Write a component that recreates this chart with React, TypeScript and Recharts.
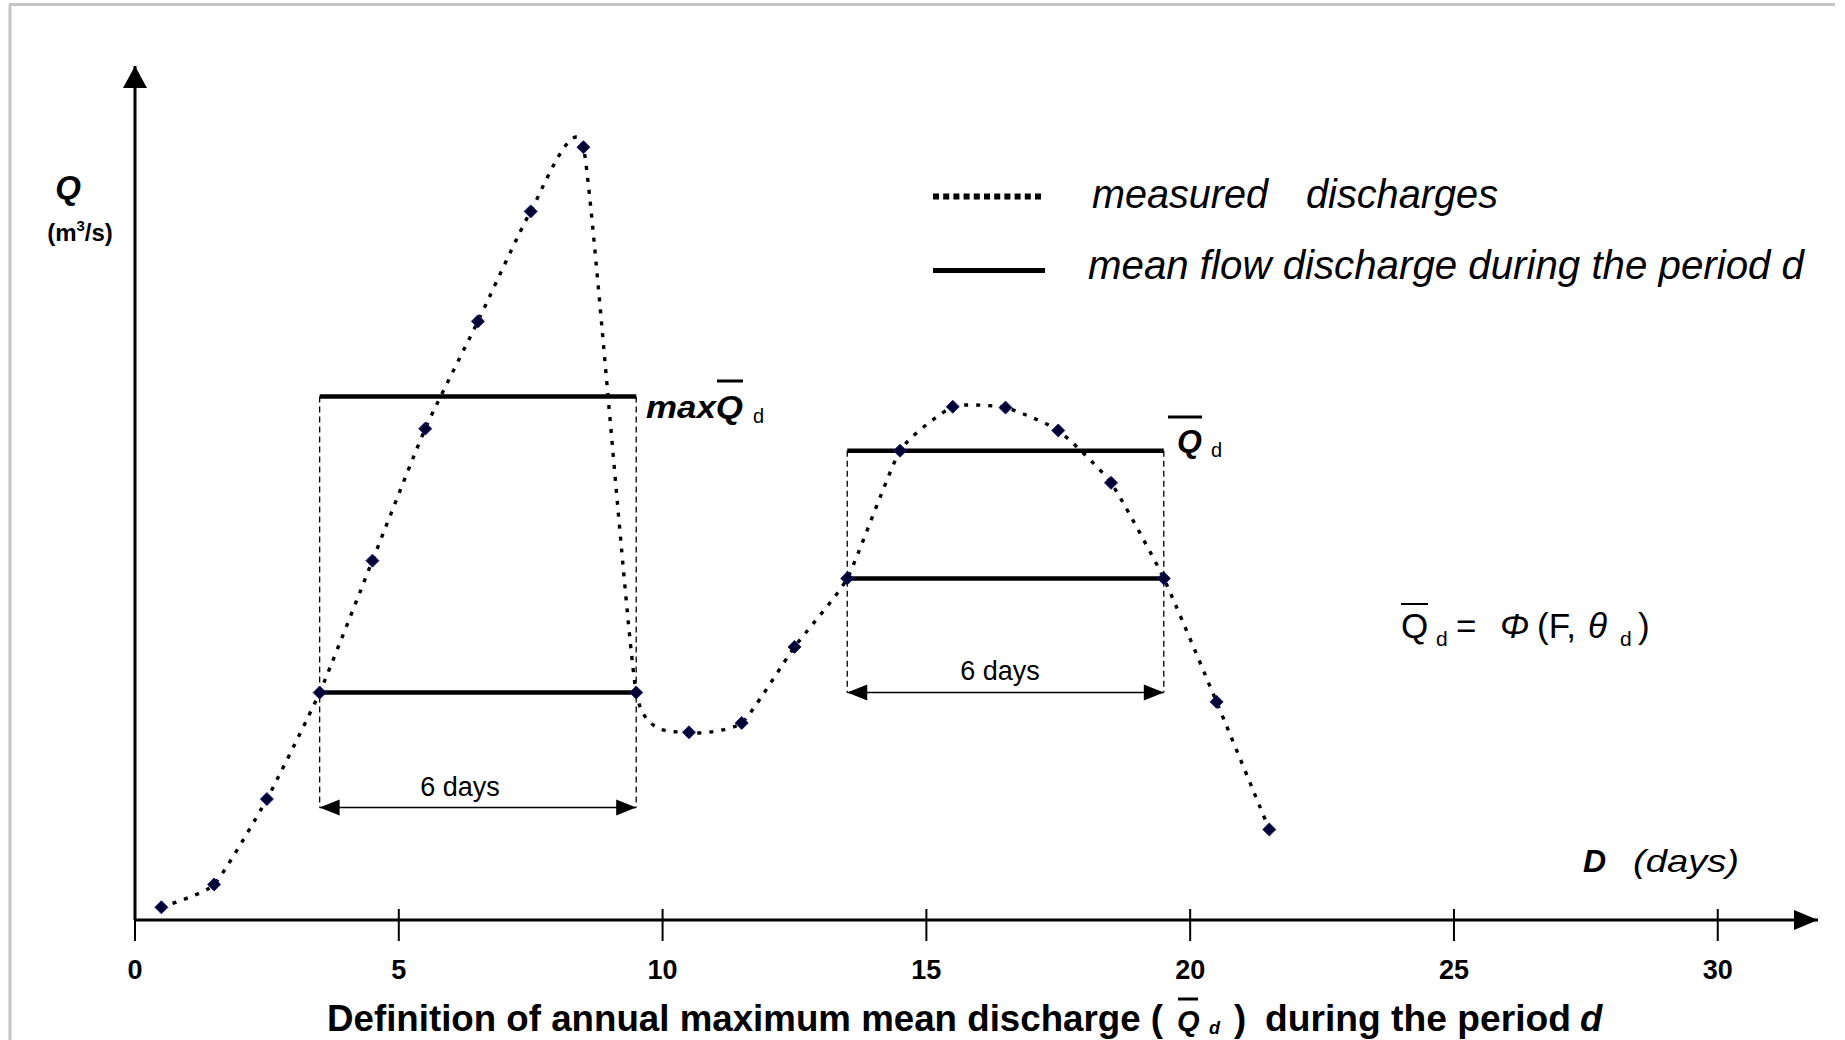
import { ComposedChart, Line, ReferenceLine, Scatter, XAxis, YAxis } from "recharts";

const days = [0.5, 1.5, 2.5, 3.5, 4.5, 5.5, 6.5, 7.5, 8.5, 9.5, 10.5, 11.5, 12.5, 13.5, 14.5, 15.5, 16.5, 17.5, 18.5, 19.5, 20.5, 21.5];
const discharge = [1.5, 4.2, 14.3, 26.9, 42.5, 58.1, 70.8, 83.8, 91.4, 26.9, 22.2, 23.3, 32.3, 40.4, 55.5, 60.7, 60.6, 57.9, 51.7, 40.4, 25.8, 10.7];
const dayTicks = [0, 5, 10, 15, 20, 25, 30];

// mean flow over 6-day windows
const meanPeriods = [
  { from: 3.5, to: 9.5, q: 61.9 },
  { from: 3.5, to: 9.5, q: 26.9 },
  { from: 13.5, to: 19.5, q: 55.5 },
  { from: 13.5, to: 19.5, q: 40.4 },
];

// "6 days" dimension lines: q = arrow level, top = where the dashed guides start
const spans = [
  { from: 3.5, to: 9.5, q: 13.3, top: 61.9 },
  { from: 13.5, to: 19.5, q: 26.9, top: 55.5 },
];

const X_MAX = 31.9;
const Q_MAX = 101;

const W = 1845;
const H = 1040;
const sans = "'Liberation Sans', Arial, sans-serif";
const narrow = "'Liberation Sans Narrow', 'Arial Narrow', 'Liberation Sans', Arial, sans-serif";

const measured = days.map((d, i) => ({ x: d, q: discharge[i] }));
const arrowHeads = [
  ...spans.flatMap((s) => [
    { x: s.from, q: s.q, dir: "left" },
    { x: s.to, q: s.q, dir: "right" },
  ]),
  { x: X_MAX, q: 0, dir: "axisRight" },
  { x: 0, q: Q_MAX, dir: "up" },
];

// smooth curve through the points, like a spreadsheet "smoothed line"
function cardinal(tension: number) {
  const k = (1 - tension) / 6;
  return (context: any) => {
    let pts: number[][] = [];
    return {
      areaStart() {},
      areaEnd() {},
      lineStart() {
        pts = [];
      },
      lineEnd() {
        const n = pts.length;
        if (!n) return;
        context.moveTo(pts[0][0], pts[0][1]);
        for (let i = 0; i < n - 1; i++) {
          const p0 = pts[Math.max(i - 1, 0)];
          const p1 = pts[i];
          const p2 = pts[i + 1];
          const p3 = pts[Math.min(i + 2, n - 1)];
          context.bezierCurveTo(
            p1[0] + k * (p2[0] - p0[0]),
            p1[1] + k * (p2[1] - p0[1]),
            p2[0] - k * (p3[0] - p1[0]),
            p2[1] - k * (p3[1] - p1[1]),
            p2[0],
            p2[1]
          );
        }
      },
      point(x: number, y: number) {
        pts.push([x, y]);
      },
    };
  };
}
const smooth = cardinal(0.5);

function Diamond(props: any) {
  const { cx, cy, index } = props;
  if (cx == null || cy == null) return <g key={index} />;
  const r = 6.5;
  return (
    <path
      key={index}
      d={`M${cx},${cy - r}L${cx + r},${cy}L${cx},${cy + r}L${cx - r},${cy}Z`}
      fill="#000033"
      stroke="#1a1a80"
      strokeWidth={1}
    />
  );
}

function ArrowHead(props: any) {
  const { cx, cy } = props;
  const dir = props.payload?.dir ?? props.dir;
  let d = "";
  if (dir === "left") d = `M${cx},${cy}L${cx + 20},${cy - 8}L${cx + 20},${cy + 8}Z`;
  else if (dir === "right") d = `M${cx},${cy}L${cx - 20},${cy - 8}L${cx - 20},${cy + 8}Z`;
  else if (dir === "axisRight") d = `M${cx},${cy}L${cx - 24},${cy - 10}L${cx - 24},${cy + 10}Z`;
  else d = `M${cx},${cy}L${cx - 12},${cy + 22}L${cx + 12},${cy + 22}Z`;
  return <path d={d} fill="#000" />;
}

function DayTick(props: any) {
  const { x, y, payload } = props;
  return (
    <g>
      <line x1={x} x2={x} y1={y - 32} y2={y} stroke="#000" strokeWidth={2} />
      <text x={x} y={y + 38} textAnchor="middle" fontFamily={narrow} fontWeight="bold" fontSize={27} fill="#000">
        {payload.value}
      </text>
    </g>
  );
}

function Overlay() {
  return (
    <svg width={W} height={H} style={{ position: "absolute", left: 0, top: 0, pointerEvents: "none" }}>
      {/* frame */}
      <line x1={9} x2={1835} y1={4.5} y2={4.5} stroke="#c4c4c4" strokeWidth={3} />
      <line x1={10} x2={10} y1={4} y2={H} stroke="#c4c4c4" strokeWidth={3} />

      {/* y axis label */}
      <text x={68} y={199} textAnchor="middle" fontFamily={sans} fontWeight="bold" fontStyle="italic" fontSize={33}>
        Q
      </text>
      <text x={80} y={241} textAnchor="middle" fontFamily={sans} fontWeight="bold" fontSize={24}>
        (m<tspan fontSize={15} dy={-10}>3</tspan>
        <tspan dy={10}>/s)</tspan>
      </text>

      {/* legend */}
      <line x1={933} x2={1045} y1={196.5} y2={196.5} stroke="#000" strokeWidth={6} strokeDasharray="6 4.2" />
      <text x={1092} y={208} fontFamily={sans} fontStyle="italic" fontSize={40} textLength={176} lengthAdjust="spacingAndGlyphs">
        measured
      </text>
      <text x={1306} y={208} fontFamily={sans} fontStyle="italic" fontSize={40} textLength={192} lengthAdjust="spacingAndGlyphs">
        discharges
      </text>
      <line x1={933} x2={1045} y1={270.5} y2={270.5} stroke="#000" strokeWidth={5} />
      <text x={1088} y={279} fontFamily={sans} fontStyle="italic" fontSize={40} textLength={716} lengthAdjust="spacingAndGlyphs">
        mean flow discharge during the period d
      </text>

      {/* max mean label */}
      <text y={418} fontFamily={sans} fontWeight="bold" fontStyle="italic" fontSize={32}>
        <tspan x={646} textLength={97} lengthAdjust="spacingAndGlyphs">
          maxQ
        </tspan>
        <tspan x={753} dy={5} fontSize={20} fontWeight="normal" fontStyle="normal">
          d
        </tspan>
      </text>
      <line x1={717} x2={743} y1={381} y2={381} stroke="#000" strokeWidth={3} />

      {/* mean label */}
      <text x={1177} y={452} fontFamily={sans} fontWeight="bold" fontStyle="italic" fontSize={32}>
        Q
        <tspan x={1211} dy={5} fontSize={20} fontWeight="normal" fontStyle="normal">
          d
        </tspan>
      </text>
      <line x1={1168} x2={1202} y1={417} y2={417} stroke="#000" strokeWidth={3} />

      {/* formula */}
      <text x={1401} y={638} fontFamily={sans} fontSize={35}>
        Q
        <tspan x={1436} dy={8} fontSize={21}>
          d
        </tspan>
        <tspan x={1456} dy={-8}>
          =
        </tspan>
        <tspan x={1500} fontStyle="italic">
          Φ
        </tspan>
        <tspan x={1537}>(F,</tspan>
        <tspan x={1588} fontStyle="italic">
          θ
        </tspan>
        <tspan x={1620} dy={8} fontSize={21}>
          d
        </tspan>
        <tspan x={1638} dy={-8}>
          )
        </tspan>
      </text>
      <line x1={1401} x2={1428} y1={604} y2={604} stroke="#000" strokeWidth={2} />

      {/* span labels */}
      <text x={460} y={796} textAnchor="middle" fontFamily={narrow} fontSize={27}>
        6 days
      </text>
      <text x={1000} y={680} textAnchor="middle" fontFamily={narrow} fontSize={27}>
        6 days
      </text>

      {/* x axis label */}
      <text x={1583} y={872} fontFamily={sans} fontWeight="bold" fontStyle="italic" fontSize={32}>
        D
        <tspan x={1633} fontWeight="normal" textLength={106} lengthAdjust="spacingAndGlyphs">
          (days)
        </tspan>
      </text>

      {/* caption */}
      <text y={1031} fontFamily={narrow} fontWeight="bold" fontSize={36.5}>
        <tspan x={327} textLength={836} lengthAdjust="spacingAndGlyphs">
          Definition of annual maximum mean discharge (
        </tspan>
        <tspan x={1177} fontFamily={sans} fontStyle="italic" fontSize={29}>
          Q
        </tspan>
        <tspan x={1209} dy={3} fontStyle="italic" fontSize={18}>
          d
        </tspan>
        <tspan x={1234} dy={-3}>
          )
        </tspan>
        <tspan x={1265} textLength={306} lengthAdjust="spacingAndGlyphs">
          during the period
        </tspan>
        <tspan x={1580} fontStyle="italic">
          d
        </tspan>
      </text>
      <line x1={1178} x2={1198} y1={999} y2={999} stroke="#000" strokeWidth={3} />
    </svg>
  );
}

export default function App() {
  return (
    <div style={{ position: "absolute", left: 0, top: 0, width: W, height: H, background: "#fff", overflow: "hidden" }}>
      <ComposedChart width={W} height={H} margin={{ top: 66, right: 27, bottom: 90, left: 135 }}>
        <XAxis
          type="number"
          dataKey="x"
          domain={[0, X_MAX]}
          ticks={dayTicks}
          interval={0}
          height={30}
          tickSize={21}
          tickMargin={0}
          tickLine={false}
          tick={<DayTick />}
          axisLine={{ stroke: "#000", strokeWidth: 3 }}
        />
        <YAxis type="number" dataKey="q" domain={[0, Q_MAX]} hide />
        <ReferenceLine x={0} stroke="#000" strokeWidth={3} ifOverflow="visible" />

        {spans.map((s, i) => (
          <ReferenceLine
            key={`gl${i}`}
            segment={[
              { x: s.from, y: s.top },
              { x: s.from, y: s.q },
            ]}
            stroke="#000"
            strokeWidth={1.3}
            strokeDasharray="6 4"
            ifOverflow="visible"
          />
        ))}
        {spans.map((s, i) => (
          <ReferenceLine
            key={`gr${i}`}
            segment={[
              { x: s.to, y: s.top },
              { x: s.to, y: s.q },
            ]}
            stroke="#000"
            strokeWidth={1.3}
            strokeDasharray="6 4"
            ifOverflow="visible"
          />
        ))}
        {spans.map((s, i) => (
          <ReferenceLine
            key={`dim${i}`}
            segment={[
              { x: s.from, y: s.q },
              { x: s.to, y: s.q },
            ]}
            stroke="#000"
            strokeWidth={1.6}
            ifOverflow="visible"
          />
        ))}

        <Line
          data={measured}
          dataKey="q"
          type={smooth as any}
          stroke="#000"
          strokeWidth={3.4}
          strokeDasharray="4 8"
          dot={false}
          activeDot={false}
          isAnimationActive={false}
        />

        {meanPeriods.map((m, i) => (
          <ReferenceLine
            key={`m${i}`}
            segment={[
              { x: m.from, y: m.q },
              { x: m.to, y: m.q },
            ]}
            stroke="#000"
            strokeWidth={4.5}
            ifOverflow="visible"
          />
        ))}

        <Line
          data={measured}
          dataKey="q"
          stroke="none"
          dot={Diamond}
          activeDot={false}
          isAnimationActive={false}
        />
        <Scatter data={arrowHeads} dataKey="q" shape={ArrowHead} isAnimationActive={false} />
      </ComposedChart>
      <Overlay />
    </div>
  );
}
